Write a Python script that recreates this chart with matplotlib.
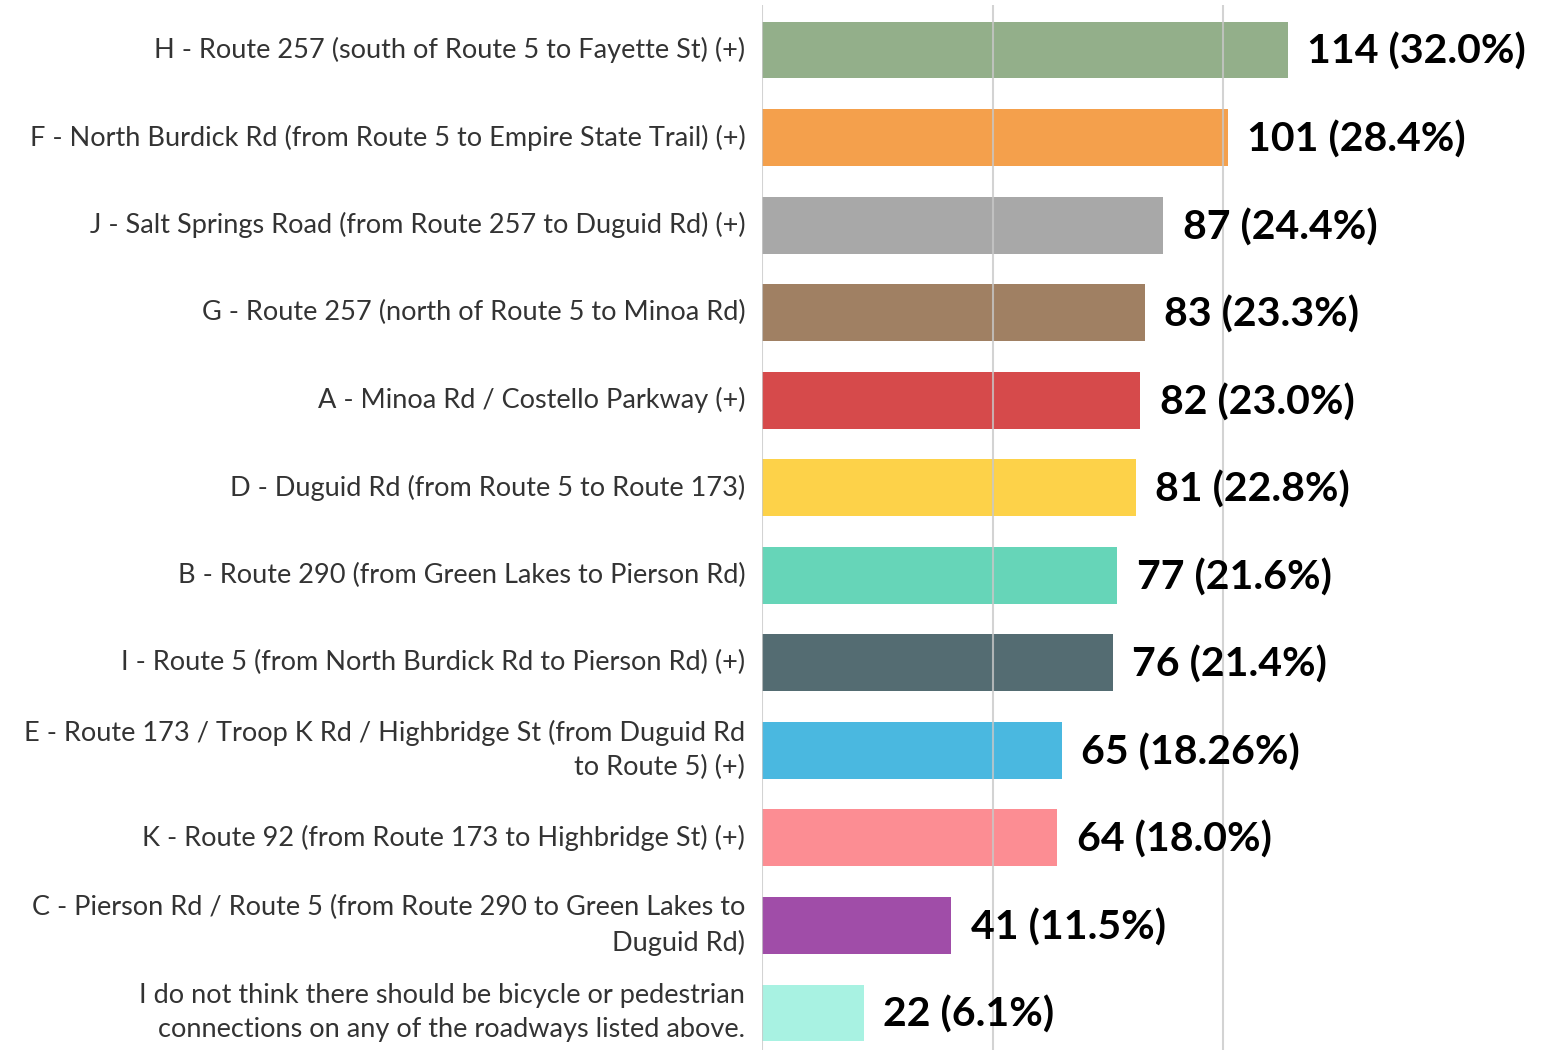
import matplotlib.pyplot as plt

labels = [
    'H - Route 257 (south of Route 5 to Fayette St) (+)',
    'F - North Burdick Rd (from Route 5 to Empire State Trail) (+)',
    'J - Salt Springs Road (from Route 257 to Duguid Rd) (+)',
    'G - Route 257 (north of Route 5 to Minoa Rd)',
    'A - Minoa Rd / Costello Parkway (+)',
    'D - Duguid Rd (from Route 5 to Route 173)',
    'B - Route 290 (from Green Lakes to Pierson Rd)',
    'I - Route 5 (from North Burdick Rd to Pierson Rd) (+)',
    'E - Route 173 / Troop K Rd / Highbridge St (from Duguid Rd\nto Route 5) (+)',
    'K - Route 92 (from Route 173 to Highbridge St) (+)',
    'C - Pierson Rd / Route 5 (from Route 290 to Green Lakes to\nDuguid Rd)',
    'I do not think there should be bicycle or pedestrian\nconnections on any of the roadways listed above.',
]
counts = [114, 101, 87, 83, 82, 81, 77, 76, 65, 64, 41, 22]
pcts = ['32.0%', '28.4%', '24.4%', '23.3%', '23.0%', '22.8%', '21.6%', '21.4%',
        '18.26%', '18.0%', '11.5%', '6.1%']
colors = ['#93AF8A', '#F4A04C', '#A8A8A8', '#A08063', '#D64A4B', '#FDD249',
          '#66D5B8', '#546C72', '#4AB8E0', '#FC8D93', '#A04DA8', '#A8F2E2']

plt.rcParams['font.family'] = ['Lato', 'DejaVu Sans']

fig = plt.figure(figsize=(15.43, 10.5), dpi=100)
ax = fig.add_axes([762/1543, 0, 1 - 762/1543, 1 - 5/1050])

y = list(range(len(counts)))
ax.barh(y, counts, height=0.65, color=colors, zorder=1)
ax.set_xlim(0, 781/4.614)
ax.set_ylim(11 + 37/87.5, -45/87.5)

# gridlines show through the bars
for v in [0, 50, 100]:
    ax.axvline(v, color='#c8c8c8', lw=1.5, alpha=0.8, zorder=3)

for i, (c, p) in enumerate(zip(counts, pcts)):
    ax.annotate('%d (%s)' % (c, p), (c, i), xytext=(14, -1.5), textcoords='offset points',
                ha='left', va='center', fontsize=29.5, fontweight='bold', color='black')
    ax.annotate(labels[i], (0, i), xytext=(-12, 0), textcoords='offset points',
                ha='right', va='center', fontsize=19.5, color='#333333',
                multialignment='right', linespacing=1.45, annotation_clip=False)

ax.set_xticks([])
ax.set_yticks([])
for s in ax.spines.values():
    s.set_visible(False)

fig.savefig('out.png', dpi=100)
